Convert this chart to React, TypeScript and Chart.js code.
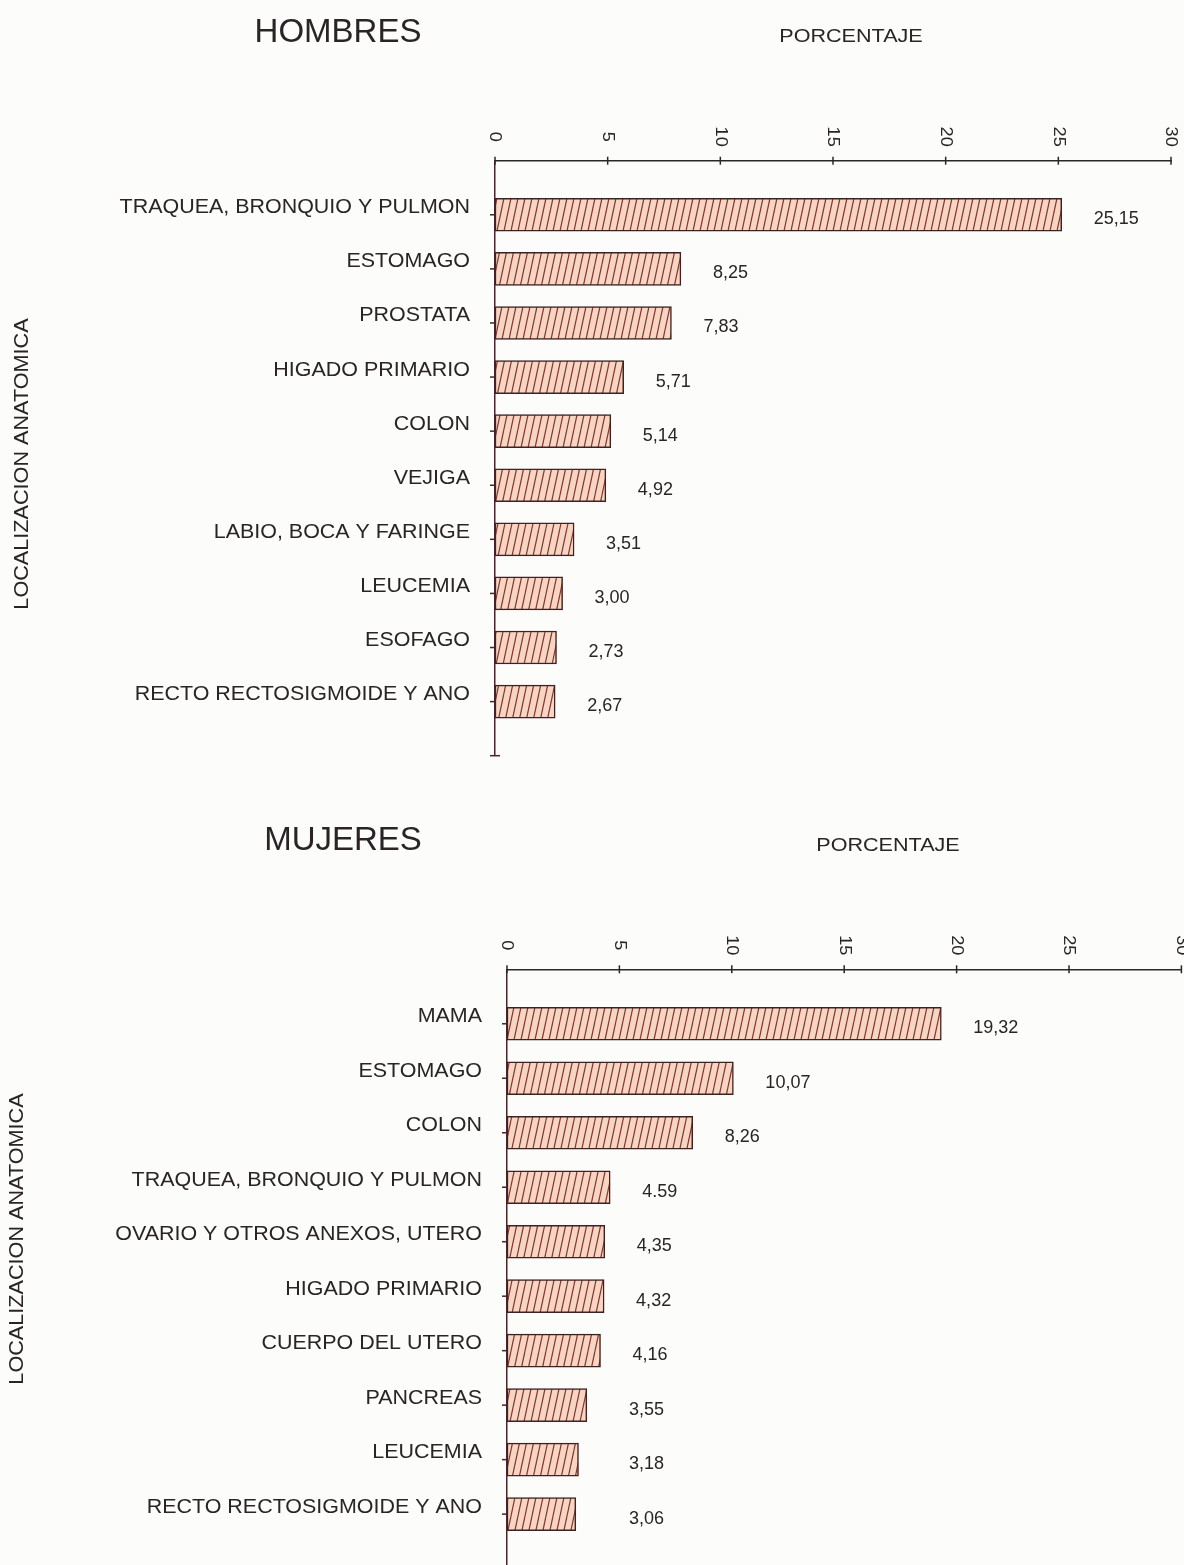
import React, { useEffect, useRef } from "react";
import { Chart, registerables } from "chart.js";

Chart.register(...registerables);

// ---------- DATA ----------
const hombresCategorias = [
  "TRAQUEA, BRONQUIO Y PULMON",
  "ESTOMAGO",
  "PROSTATA",
  "HIGADO PRIMARIO",
  "COLON",
  "VEJIGA",
  "LABIO, BOCA Y FARINGE",
  "LEUCEMIA",
  "ESOFAGO",
  "RECTO RECTOSIGMOIDE Y ANO",
];
const hombresValores = [25.15, 8.25, 7.83, 5.71, 5.14, 4.92, 3.51, 3.0, 2.73, 2.67];
const hombresEtiquetas = ["25,15", "8,25", "7,83", "5,71", "5,14", "4,92", "3,51", "3,00", "2,73", "2,67"];

const mujeresCategorias = [
  "MAMA",
  "ESTOMAGO",
  "COLON",
  "TRAQUEA, BRONQUIO Y PULMON",
  "OVARIO Y OTROS ANEXOS, UTERO",
  "HIGADO PRIMARIO",
  "CUERPO DEL UTERO",
  "PANCREAS",
  "LEUCEMIA",
  "RECTO RECTOSIGMOIDE Y ANO",
];
const mujeresValores = [19.32, 10.07, 8.26, 4.59, 4.35, 4.32, 4.16, 3.55, 3.18, 3.06];
const mujeresEtiquetas = ["19,32", "10,07", "8,26", "4.59", "4,35", "4,32", "4,16", "3,55", "3,18", "3,06"];

const xTicks = [0, 5, 10, 15, 20, 25, 30];
const xTitle = "PORCENTAJE";
const yTitle = "LOCALIZACION ANATOMICA";

// ---------- STYLE ----------
const FONT = "'Liberation Sans', Arial, Helvetica, sans-serif";
const TEXT = "#2a2426";
const AXIS_X = "#2b2728";
const AXIS_Y = "#4a2426";
const FILL = "#f6d6c3";
const HATCH = "#863631";
const BORDER = "#3c2222";

type Layout = {
  title: string;
  titleX: number;
  titleY: number;
  xTitleX: number;
  xTitleY: number;
  yTitleX: number;
  yTitleY: number;
  padding: { left: number; top: number; right: number; bottom: number };
  minLabelValue: number;
};

function txt(
  ctx: CanvasRenderingContext2D,
  s: string,
  x: number,
  y: number,
  o: { size: number; sx?: number; rot?: number; align?: CanvasTextAlign; base?: CanvasTextBaseline }
) {
  ctx.save();
  ctx.translate(x, y);
  if (o.rot) ctx.rotate(o.rot);
  ctx.scale(o.sx ?? 1, 1);
  ctx.font = `${o.size}px ${FONT}`;
  ctx.fillStyle = TEXT;
  ctx.textAlign = o.align ?? "left";
  ctx.textBaseline = o.base ?? "alphabetic";
  ctx.fillText(s, 0, 0);
  ctx.restore();
}

function makePattern(): CanvasPattern | string {
  const c = document.createElement("canvas");
  const w = 7;
  const h = 33;
  c.width = w;
  c.height = h;
  const g = c.getContext("2d");
  if (!g) return FILL;
  g.fillStyle = FILL;
  g.fillRect(0, 0, w, h);
  g.strokeStyle = HATCH;
  g.lineWidth = 1.2;
  for (let k = -1; k <= 1; k++) {
    g.beginPath();
    g.moveTo(k * w, h);
    g.lineTo(k * w + w, 0);
    g.stroke();
  }
  const p = g.createPattern(c, "repeat");
  return p ?? FILL;
}

function buildChart(
  canvas: HTMLCanvasElement,
  categorias: string[],
  valores: number[],
  etiquetas: string[],
  L: Layout
) {
  const labels = ["", ...categorias, ""];
  const data = [null, ...valores, null];

  const decor = {
    id: "decor",
    afterDraw(chart: any) {
      const ctx: CanvasRenderingContext2D = chart.ctx;
      const xs = chart.scales.x;
      const ys = chart.scales.y;
      const a = chart.chartArea;
      ctx.save();
      ctx.strokeStyle = AXIS_X;
      ctx.lineWidth = 1.5;
      xTicks.forEach((v) => {
        const px = xs.getPixelForValue(v);
        ctx.beginPath();
        ctx.moveTo(px, a.top - 4);
        ctx.lineTo(px, a.top + 4);
        ctx.stroke();
      });
      ctx.strokeStyle = AXIS_Y;
      for (let i = 1; i <= labels.length - 1; i++) {
        const py = ys.getPixelForValue(i);
        const last = i === labels.length - 1;
        ctx.beginPath();
        ctx.moveTo(a.left - 5, py);
        ctx.lineTo(a.left + (last ? 5 : 1), py);
        ctx.stroke();
      }
      ctx.restore();

      xTicks.forEach((v) => {
        const px = xs.getPixelForValue(v);
        txt(ctx, String(v), px, a.top - 24, {
          size: 16.5,
          sx: 1.1,
          rot: Math.PI / 2,
          align: "center",
          base: "middle",
        });
      });

      categorias.forEach((c, i) => {
        const py = ys.getPixelForValue(i + 1);
        txt(ctx, c, a.left - 25, py - 1.5, { size: 19.5, sx: 1.1, align: "right" });
      });

      const meta = chart.getDatasetMeta(0);
      meta.data.forEach((bar: any, i: number) => {
        const v = data[i];
        if (v === null || v === undefined) return;
        const minX = xs.getPixelForValue(L.minLabelValue);
        const lx = Math.max(bar.x + 32, minX);
        txt(ctx, etiquetas[i - 1], lx, bar.y + 9.5, { size: 18 });
      });

      txt(ctx, L.title, L.titleX, L.titleY, { size: 33, align: "center" });
      txt(ctx, xTitle, L.xTitleX, L.xTitleY, { size: 18.6, sx: 1.16, align: "center" });
      txt(ctx, yTitle, L.yTitleX, L.yTitleY, {
        size: 21,
        sx: 1.03,
        rot: -Math.PI / 2,
        align: "center",
        base: "middle",
      });
    },
  };

  return new Chart(canvas, {
    type: "bar",
    data: {
      labels,
      datasets: [
        {
          data,
          backgroundColor: makePattern() as any,
          borderColor: BORDER,
          borderWidth: 1.5,
          borderSkipped: false,
          barThickness: 33,
        },
      ],
    },
    options: {
      animation: false,
      responsive: false,
      maintainAspectRatio: false,
      devicePixelRatio: 1,
      indexAxis: "y",
      layout: { padding: L.padding },
      plugins: { legend: { display: false }, tooltip: { enabled: false }, title: { display: false } },
      scales: {
        x: {
          type: "linear",
          position: "top",
          min: 0,
          max: 30,
          ticks: { display: false },
          grid: { display: false },
          border: { display: true, color: AXIS_X, width: 1.5 },
          afterFit: (s: any) => {
            s.height = 0;
          },
        },
        y: {
          type: "category",
          offset: false,
          ticks: { display: false },
          grid: { display: false },
          border: { display: true, color: AXIS_Y, width: 1.5 },
          afterFit: (s: any) => {
            s.width = 0;
          },
        },
      },
    },
    plugins: [decor],
  } as any);
}

const layoutHombres: Layout = {
  title: "HOMBRES",
  titleX: 338,
  titleY: 41.5,
  xTitleX: 851,
  xTitleY: 41.7,
  yTitleX: 22.5,
  yTitleY: 464,
  padding: { left: 495, top: 160.7, right: 1184 - 1171, bottom: 790 - 755.7 },
  minLabelValue: 0,
};

const layoutMujeres: Layout = {
  title: "MUJERES",
  titleX: 343,
  titleY: 60,
  xTitleX: 888,
  xTitleY: 61,
  yTitleX: 17,
  yTitleY: 449,
  padding: { left: 507, top: 179.3, right: 1184 - 1181.4, bottom: 790 - 778.6 },
  minLabelValue: 5.43,
};

function Panel(props: {
  top: number;
  categorias: string[];
  valores: number[];
  etiquetas: string[];
  layout: Layout;
}) {
  const ref = useRef<HTMLCanvasElement>(null);
  useEffect(() => {
    if (!ref.current) return;
    const ch = buildChart(ref.current, props.categorias, props.valores, props.etiquetas, props.layout);
    return () => ch.destroy();
  }, []);
  return (
    <canvas
      ref={ref}
      width={1184}
      height={790}
      style={{ position: "absolute", left: 0, top: props.top, width: 1184, height: 790, display: "block" }}
    />
  );
}

export default function App() {
  return (
    <div
      style={{
        position: "absolute",
        left: 0,
        top: 0,
        width: 1184,
        height: 1565,
        overflow: "hidden",
        background: "#fcfcfb",
      }}
    >
      <Panel top={0} categorias={hombresCategorias} valores={hombresValores} etiquetas={hombresEtiquetas} layout={layoutHombres} />
      <Panel top={790} categorias={mujeresCategorias} valores={mujeresValores} etiquetas={mujeresEtiquetas} layout={layoutMujeres} />
    </div>
  );
}
